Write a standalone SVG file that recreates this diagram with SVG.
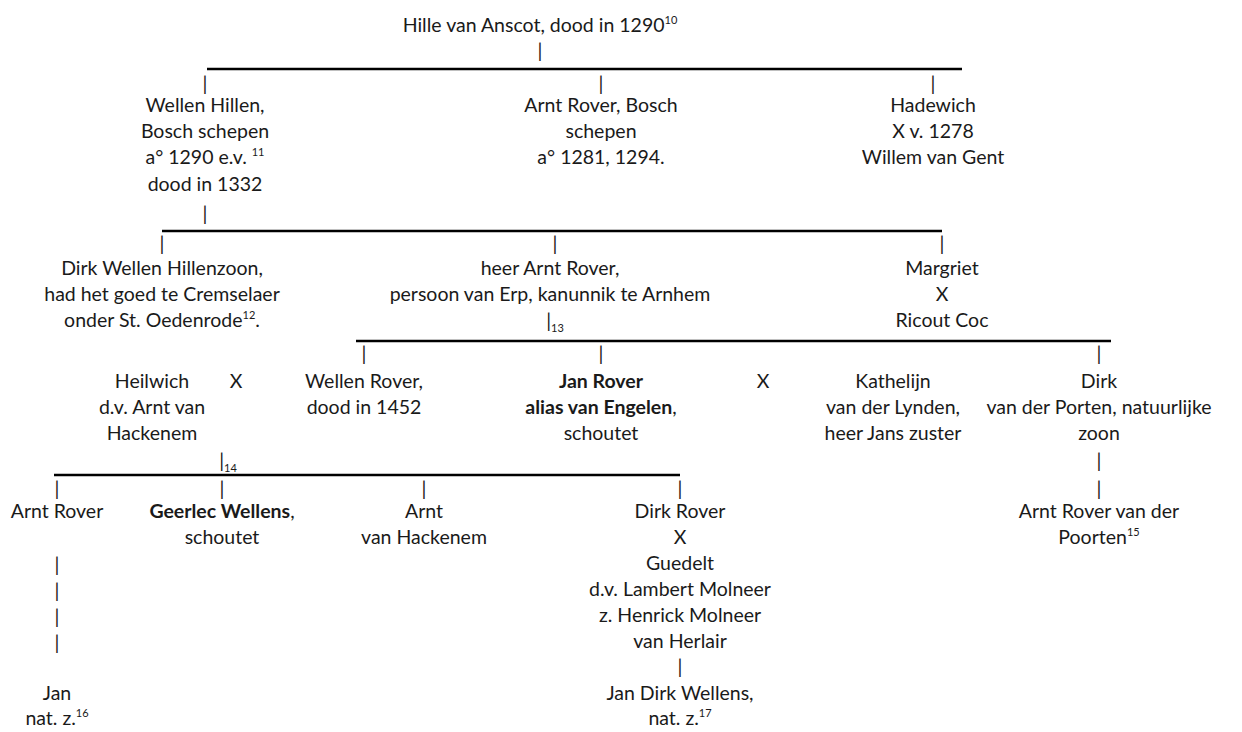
<svg xmlns="http://www.w3.org/2000/svg" width="1242" height="732" viewBox="0 0 1242 732">
<style>
text{font-family:Lato,"Liberation Sans",sans-serif;font-size:19.5px;fill:#1a1a1a;text-anchor:middle}
.b{font-weight:bold}
.s{font-size:11px}
.hl{stroke:#000;stroke-width:2.4;fill:none}
</style>
<rect width="1242" height="732" fill="#fff"/>
<g id="connectors">
<line class="hl" x1="207" y1="69" x2="962" y2="69"/>
<line class="hl" x1="162" y1="231" x2="942" y2="231"/>
<line class="hl" x1="356" y1="341" x2="1111" y2="341"/>
<line class="hl" x1="54" y1="475" x2="680" y2="475"/>
<text x="540" y="58">|</text>
<text x="205" y="91">|</text><text x="601" y="91">|</text><text x="933" y="91">|</text>
<text x="205" y="221">|</text>
<text x="162" y="251">|</text><text x="555" y="251">|</text><text x="942" y="251">|</text>
<text x="555" y="328">|<tspan class="s" dy="4">13</tspan></text>
<text x="364" y="361">|</text><text x="601" y="361">|</text><text x="1099" y="361">|</text>
<text x="228" y="468">|<tspan class="s" dy="4">14</tspan></text>
<text x="1099" y="468">|</text><text x="1099" y="496">|</text>
<text x="57" y="496">|</text><text x="222" y="496">|</text><text x="424" y="496">|</text><text x="680" y="496">|</text>
<text x="57" y="572">|</text><text x="57" y="598">|</text><text x="57" y="624">|</text><text x="57" y="650">|</text>
<text x="680" y="674">|</text>
</g>
<g id="n-hille"><text x="540" y="32">Hille van Anscot, dood in 1290<tspan class="s" dy="-8">10</tspan></text></g>
<g id="n-wellen-hillen">
<text x="205" y="112">Wellen Hillen,</text>
<text x="205" y="138">Bosch schepen</text>
<text x="205" y="164">a° 1290 e.v. <tspan class="s" dy="-8">11</tspan></text>
<text x="205" y="191">dood in 1332</text>
</g>
<g id="n-arnt-rover-1">
<text x="601" y="112">Arnt Rover, Bosch</text>
<text x="601" y="138">schepen</text>
<text x="601" y="164">a° 1281, 1294.</text>
</g>
<g id="n-hadewich">
<text x="933" y="112">Hadewich</text>
<text x="933" y="138">X v. 1278</text>
<text x="933" y="164">Willem van Gent</text>
</g>
<g id="n-dirk-wellen">
<text x="162" y="275">Dirk Wellen Hillenzoon,</text>
<text x="162" y="301">had het goed te Cremselaer</text>
<text x="162" y="327">onder St. Oedenrode<tspan class="s" dy="-8">12</tspan><tspan dy="8">.</tspan></text>
</g>
<g id="n-heer-arnt">
<text x="550" y="275">heer Arnt Rover,</text>
<text x="550" y="301">persoon van Erp, kanunnik te Arnhem</text>
</g>
<g id="n-margriet">
<text x="942" y="275">Margriet</text>
<text x="942" y="301">X</text>
<text x="942" y="327">Ricout Coc</text>
</g>
<g id="n-heilwich">
<text x="152" y="388">Heilwich</text>
<text x="152" y="414">d.v. Arnt van</text>
<text x="152" y="440">Hackenem</text>
</g>
<g id="m-x1"><text x="236" y="388">X</text></g>
<g id="n-wellen-rover">
<text x="364" y="388">Wellen Rover,</text>
<text x="364" y="414">dood in 1452</text>
</g>
<g id="n-jan-rover">
<text x="601" y="388" class="b">Jan Rover</text>
<text x="601" y="414"><tspan class="b">alias van Engelen</tspan>,</text>
<text x="601" y="440">schoutet</text>
</g>
<g id="m-x2"><text x="763" y="388">X</text></g>
<g id="n-kathelijn">
<text x="893" y="388">Kathelijn</text>
<text x="893" y="414">van der Lynden,</text>
<text x="893" y="440">heer Jans zuster</text>
</g>
<g id="n-dirk-porten">
<text x="1099" y="388">Dirk</text>
<text x="1099" y="414">van der Porten, natuurlijke</text>
<text x="1099" y="440">zoon</text>
</g>
<g id="n-arnt-rover-2">
<text x="57" y="518">Arnt Rover</text>
</g>
<g id="n-geerlec">
<text x="222" y="518"><tspan class="b">Geerlec Wellens</tspan>,</text>
<text x="222" y="544">schoutet</text>
</g>
<g id="n-arnt-hackenem">
<text x="424" y="518">Arnt</text>
<text x="424" y="544">van Hackenem</text>
</g>
<g id="n-dirk-rover">
<text x="680" y="518">Dirk Rover</text>
<text x="680" y="544">X</text>
<text x="680" y="570">Guedelt</text>
<text x="680" y="596">d.v. Lambert Molneer</text>
<text x="680" y="622">z. Henrick Molneer</text>
<text x="680" y="648">van Herlair</text>
</g>
<g id="n-arnt-poorten">
<text x="1099" y="518">Arnt Rover van der</text>
<text x="1099" y="544">Poorten<tspan class="s" dy="-8">15</tspan></text>
</g>
<g id="n-jan">
<text x="57" y="700">Jan</text>
<text x="57" y="725">nat. z.<tspan class="s" dy="-8">16</tspan></text>
</g>
<g id="n-jan-dirk">
<text x="680" y="700">Jan Dirk Wellens,</text>
<text x="680" y="725">nat. z.<tspan class="s" dy="-8">17</tspan></text>
</g>
</svg>
